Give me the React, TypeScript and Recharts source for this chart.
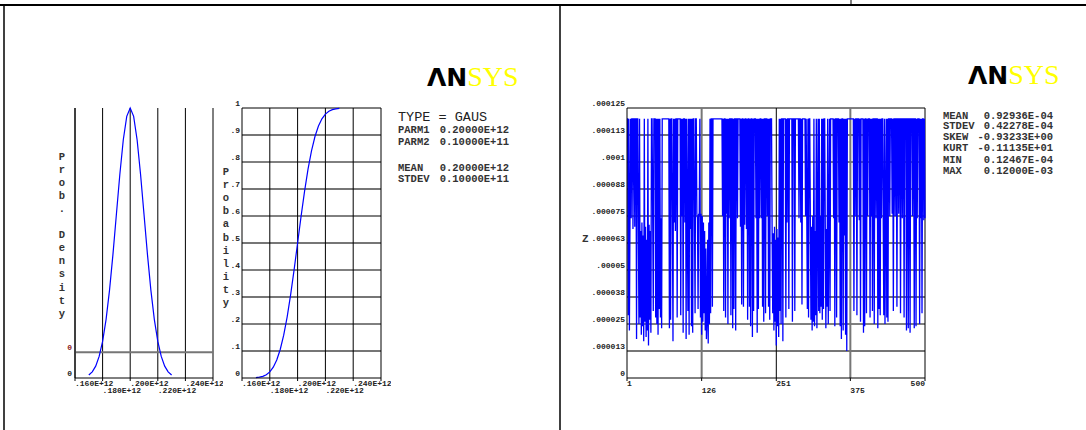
import React from 'react'
import { LineChart, Line, XAxis, YAxis, CartesianGrid, ReferenceLine } from 'recharts'

// Gaussian input variable, x in units of E+12
const pdfX = [0.17, 0.1725, 0.175, 0.1775, 0.18, 0.1825, 0.185, 0.1875, 0.19, 0.1925, 0.195, 0.1975, 0.2, 0.2025, 0.205, 0.2075, 0.21, 0.2125, 0.215, 0.2175, 0.22, 0.2225, 0.225, 0.2275, 0.23]
// density, in units of E-11
const pdfY = [0.0443, 0.0908, 0.1753, 0.3188, 0.5399, 0.8628, 1.2952, 1.8265, 2.4197, 3.0114, 3.5207, 3.8667, 3.9894, 3.8667, 3.5207, 3.0114, 2.4197, 1.8265, 1.2952, 0.8628, 0.5399, 0.3188, 0.1753, 0.0908, 0.0443]
const cdfY = [0.00135, 0.00298, 0.00621, 0.01222, 0.02275, 0.04006, 0.06681, 0.10565, 0.15866, 0.22663, 0.30854, 0.40129, 0.5, 0.59871, 0.69146, 0.77337, 0.84134, 0.89435, 0.93319, 0.95994, 0.97725, 0.98778, 0.99379, 0.99702, 0.99865]

const gausTicks = [0.16, 0.18, 0.2, 0.22, 0.24, 0.26]
const gausTickLabels = ['.160E+12', '.180E+12', '.200E+12', '.220E+12', '.240E+12', '']
const pdfYTicks = [0, 0.38]
const pdfYTickLabels = ['0', '0']
const cdfYTicks = [0, 0.1, 0.2, 0.3, 0.4, 0.5, 0.6, 0.7, 0.8, 0.9, 1]
const cdfYTickLabels = ['0', '.1', '.2', '.3', '.4', '.5', '.6', '.7', '.8', '.9', '1']

// sample history of Z, in units of E-06
const zHist = [
  120, 120, 29, 120, 22, 73, 120, 74, 120, 120, 69, 120, 120, 70, 120, 120, 18, 120, 120, 72, 25, 120, 28, 68, 20,
  72, 24, 66, 17, 120, 26, 70, 19, 64, 22, 120, 15, 71, 27, 68, 21, 120, 120, 75, 31, 120, 120, 120, 28, 120,
  25, 120, 20, 120, 32, 120, 28, 74, 23, 120, 120, 120, 120, 120, 120, 120, 120, 120, 120, 120, 120, 23, 120, 27, 120,
  120, 74, 17, 120, 72, 120, 68, 120, 120, 28, 120, 120, 120, 120, 120, 29, 120, 75, 120, 21, 120, 120, 72, 120, 18,
  120, 75, 31, 120, 20, 120, 69, 120, 24, 120, 21, 120, 120, 75, 30, 120, 120, 76, 74, 32, 76, 75, 120, 28, 76,
  20, 75, 26, 72, 30, 68, 22, 60, 18, 28, 64, 16, 72, 25, 120, 30, 120, 120, 33, 120, 120, 120, 120, 120, 120,
  120, 120, 120, 120, 120, 120, 120, 120, 120, 120, 75, 120, 31, 120, 120, 28, 120, 76, 120, 25, 120, 74, 120, 120, 29,
  120, 120, 23, 120, 32, 120, 120, 22, 120, 120, 74, 120, 120, 120, 120, 70, 120, 34, 120, 120, 33, 120, 71, 120, 120,
  69, 120, 27, 120, 120, 33, 120, 24, 120, 120, 19, 120, 31, 120, 120, 120, 74, 120, 21, 120, 32, 120, 74, 120, 120,
  74, 120, 33, 120, 26, 120, 120, 30, 120, 120, 75, 120, 33, 120, 27, 120, 120, 120, 68, 30, 67, 22, 70, 26, 64,
  15, 69, 24, 65, 19, 120, 31, 120, 25, 120, 120, 17, 120, 120, 120, 120, 28, 120, 72, 120, 120, 32, 120, 120, 120,
  120, 120, 26, 120, 120, 120, 31, 120, 120, 120, 120, 120, 120, 74, 120, 120, 72, 120, 34, 120, 120, 120, 120, 120, 75,
  120, 77, 32, 120, 28, 120, 120, 75, 27, 70, 22, 75, 26, 120, 24, 68, 29, 120, 23, 72, 120, 31, 120, 30, 75,
  33, 120, 27, 120, 32, 120, 120, 71, 23, 69, 33, 120, 25, 70, 120, 31, 120, 120, 120, 120, 120, 74, 120, 24, 120,
  120, 28, 120, 120, 120, 72, 120, 24, 120, 18, 120, 120, 22, 120, 66, 120, 20, 120, 12.467, 120, 120, 120, 120, 120, 120,
  120, 120, 120, 120, 120, 31, 120, 75, 120, 120, 29, 120, 120, 120, 73, 120, 26, 120, 120, 120, 120, 21, 120, 24, 120,
  120, 30, 120, 75, 120, 120, 120, 28, 120, 75, 120, 31, 120, 120, 25, 120, 120, 74, 120, 120, 23, 120, 32, 120, 29,
  120, 74, 120, 120, 76, 29, 120, 25, 76, 120, 28, 120, 26, 120, 120, 75, 120, 120, 120, 76, 120, 31, 120, 120, 75,
  120, 120, 33, 120, 120, 76, 120, 120, 30, 120, 120, 74, 120, 120, 28, 120, 120, 120, 22, 120, 120, 23, 120, 120, 21,
  120, 120, 120, 75, 120, 120, 23, 120, 120, 24, 120, 74, 120, 120, 120, 25, 120, 74, 120, 30, 120, 120, 73, 120, 74,
]
const zXTicks = [1, 126, 251, 375, 500]
const zXTickLabels = ['1', '126', '251', '375', '500']
const zYTicks = [0, 12.5, 25, 37.5, 50, 62.5, 75, 87.5, 100, 112.5, 125]
const zYTickLabels = ['0', '.000013', '.000025', '.000038', '.00005', '.000063', '.000075', '.000088', '.0001', '.000113', '.000125']

const leftStats = [
  ['PARM1', '0.20000E+12'],
  ['PARM2', '0.10000E+11'],
  ['MEAN', '0.20000E+12'],
  ['STDEV', '0.10000E+11'],
]
const rightStats = [
  ['MEAN', '0.92936E-04'],
  ['STDEV', '0.42278E-04'],
  ['SKEW', '-0.93233E+00'],
  ['KURT', '-0.11135E+01'],
  ['MIN', '0.12467E-04'],
  ['MAX', '0.12000E-03'],
]

const gausData = pdfX.map((x, i) => ({ x, pdf: pdfY[i], cdf: cdfY[i] }))
const zData = zHist.map((z, i) => ({ n: i + 1, z }))

const MONO = '"Liberation Mono", "DejaVu Sans Mono", monospace'
const BLUE = '#0000ff'
const GRAY = '#767676'
const tickStyle = { fontFamily: MONO, fontSize: 8, fontWeight: 700, fill: '#222' }

function xTick(ticks: number[], labels: string[], lastEnd = false) {
  return (props: any) => {
    const { x, y, payload } = props
    const i = ticks.indexOf(payload.value)
    const end = lastEnd && i === ticks.length - 1
    return (
      <text x={x} y={y + (i % 2 ? 12 : 4.5)} textAnchor={end ? 'end' : 'start'} style={tickStyle}>
        {labels[i]}
      </text>
    )
  }
}

function yTick(ticks: number[], labels: string[], colors?: string[]) {
  return (props: any) => {
    const { x, y, payload } = props
    const i = ticks.indexOf(payload.value)
    return (
      <text x={x} y={y - 2} textAnchor="end" style={{ ...tickStyle, fill: colors ? colors[i] : '#222' }}>
        {labels[i]}
      </text>
    )
  }
}

function Stacked({ x, y0, step, text }: { x: number; y0: number; step: number; text: string }) {
  return (
    <g>
      {text.split('').map((c, i) => (
        <text key={i} x={x} y={y0 + i * step} textAnchor="middle" dominantBaseline="central"
          style={{ fontFamily: MONO, fontSize: 10.5, fontWeight: 700, fill: '#333' }}>
          {c}
        </text>
      ))}
    </g>
  )
}

function Logo({ x, y }: { x: number; y: number }) {
  return (
    <text x={x} y={y}>
      <tspan style={{ fontFamily: '"DejaVu Sans", sans-serif', fontWeight: 700, fontSize: 25, fill: '#000' }}>ΛN</tspan>
      <tspan style={{ fontFamily: '"Liberation Serif", serif', fontSize: 28, fill: '#ffff00' }}>SYS</tspan>
    </text>
  )
}

export default function App() {
  const statStyle = { fontFamily: MONO, fontSize: 10.5, fontWeight: 700, fill: '#333' }
  const leftY = [132.8, 145.2, 170.8, 181.8]
  const rightY = [118.5, 129.2, 140.2, 151.2, 162.5, 173.5]

  return (
    <div style={{ position: 'absolute', left: 0, top: 0, width: 1086, height: 430, background: '#fff', overflow: 'hidden' }}>
      <svg width={1086} height={430} style={{ position: 'absolute', left: 0, top: 0 }}>
        <line x1={0} y1={5} x2={1086} y2={5} stroke="#000" strokeWidth={2} />
        <line x1={4} y1={5} x2={4} y2={430} stroke="#000" strokeWidth={1.5} />
        <line x1={560} y1={5} x2={560} y2={430} stroke="#000" strokeWidth={1.5} />
        <line x1={851} y1={0} x2={851} y2={4} stroke="#000" strokeWidth={1} />

        <Logo x={427} y={86} />
        <Logo x={968} y={84} />

        <Stacked x={62} y0={157} step={13.05} text="Prob. Density" />
        <Stacked x={226} y0={172} step={13.1} text="Probability" />

        <text x={398} y={121.2} style={{ fontFamily: MONO, fontSize: 13.5, fill: '#222' }}>TYPE = GAUS</text>
        {leftStats.map(([k, v], i) => (
          <g key={k}>
            <text x={398} y={leftY[i]} style={statStyle}>{k}</text>
            <text x={509} y={leftY[i]} textAnchor="end" style={statStyle}>{v}</text>
          </g>
        ))}
        {rightStats.map(([k, v], i) => (
          <g key={k}>
            <text x={943} y={rightY[i]} style={statStyle}>{k}</text>
            <text x={1053} y={rightY[i]} textAnchor="end" style={statStyle}>{v}</text>
          </g>
        ))}
        <text x={582} y={242} style={{ fontFamily: MONO, fontSize: 11, fontWeight: 700, fill: '#333' }}>Z</text>
      </svg>

      {/* probability density */}
      <div style={{ position: 'absolute', left: 40, top: 98 }}>
        <LineChart width={183} height={302} data={gausData} margin={{ top: 10, right: 10, bottom: 0, left: 0 }}>
          <CartesianGrid horizontal={false} stroke="#000" strokeWidth={1} />
          <ReferenceLine y={pdfYTicks[1]} stroke={GRAY} strokeWidth={2} />
          <XAxis dataKey="x" type="number" domain={[0.16, 0.26]} ticks={gausTicks} interval={0} height={22}
            axisLine={{ stroke: '#000' }} tickLine={{ stroke: '#000' }} tickSize={3} tickMargin={0}
            tick={xTick(gausTicks, gausTickLabels)} />
          <YAxis type="number" domain={[0, 3.9894]} ticks={pdfYTicks} interval={0} width={35}
            axisLine={{ stroke: '#000' }} tickLine={false} tickSize={0} tickMargin={3}
            tick={yTick(pdfYTicks, pdfYTickLabels, ['#222', '#8b1a1a'])} />
          <Line dataKey="pdf" stroke={BLUE} strokeWidth={1.2} dot={false} isAnimationActive={false} />
        </LineChart>
      </div>

      {/* cumulative probability */}
      <div style={{ position: 'absolute', left: 212, top: 98 }}>
        <LineChart width={179} height={302} data={gausData} margin={{ top: 10, right: 10, bottom: 0, left: 0 }}>
          {cdfYTicks.slice(1).map((t, i) => (
            <ReferenceLine key={'h' + t} y={t} stroke={i % 2 === 0 ? GRAY : '#000'} strokeWidth={i % 2 === 0 ? 2 : 1} />
          ))}
          {gausTicks.slice(1).map((t) => (
            <ReferenceLine key={'v' + t} x={t} stroke="#000" strokeWidth={1} />
          ))}
          <XAxis dataKey="x" type="number" domain={[0.16, 0.26]} ticks={gausTicks} interval={0} height={22}
            axisLine={{ stroke: '#000' }} tickLine={{ stroke: '#000' }} tickSize={3} tickMargin={0}
            tick={xTick(gausTicks, gausTickLabels)} />
          <YAxis type="number" domain={[0, 1]} ticks={cdfYTicks} interval={0} width={30}
            axisLine={{ stroke: '#000' }} tickLine={false} tickSize={0} tickMargin={2}
            tick={yTick(cdfYTicks, cdfYTickLabels)} />
          <Line dataKey="cdf" stroke={BLUE} strokeWidth={1.2} dot={false} isAnimationActive={false} />
        </LineChart>
      </div>

      {/* sample history */}
      <div style={{ position: 'absolute', left: 590, top: 98 }}>
        <LineChart width={345} height={302} data={zData} margin={{ top: 10, right: 10, bottom: 0, left: 0 }}>
          {zYTicks.slice(1).map((t, i) => (
            <ReferenceLine key={'h' + t} y={t} stroke={i % 2 === 0 ? GRAY : '#000'} strokeWidth={i % 2 === 0 ? 2 : 1} />
          ))}
          {zXTicks.slice(1).map((t, i) => (
            <ReferenceLine key={'v' + t} x={t} stroke={i % 2 === 0 ? GRAY : '#000'} strokeWidth={i % 2 === 0 ? 2 : 1} />
          ))}
          <XAxis dataKey="n" type="number" domain={[1, 500]} ticks={zXTicks} interval={0} height={22}
            axisLine={{ stroke: '#000' }} tickLine={{ stroke: '#000' }} tickSize={3} tickMargin={0}
            tick={xTick(zXTicks, zXTickLabels, true)} />
          <YAxis type="number" domain={[0, 125]} ticks={zYTicks} interval={0} width={37}
            axisLine={{ stroke: '#000' }} tickLine={false} tickSize={0} tickMargin={2}
            tick={yTick(zYTicks, zYTickLabels)} />
          <Line dataKey="z" stroke={BLUE} strokeWidth={1.3} dot={false} isAnimationActive={false} />
        </LineChart>
      </div>
    </div>
  )
}
